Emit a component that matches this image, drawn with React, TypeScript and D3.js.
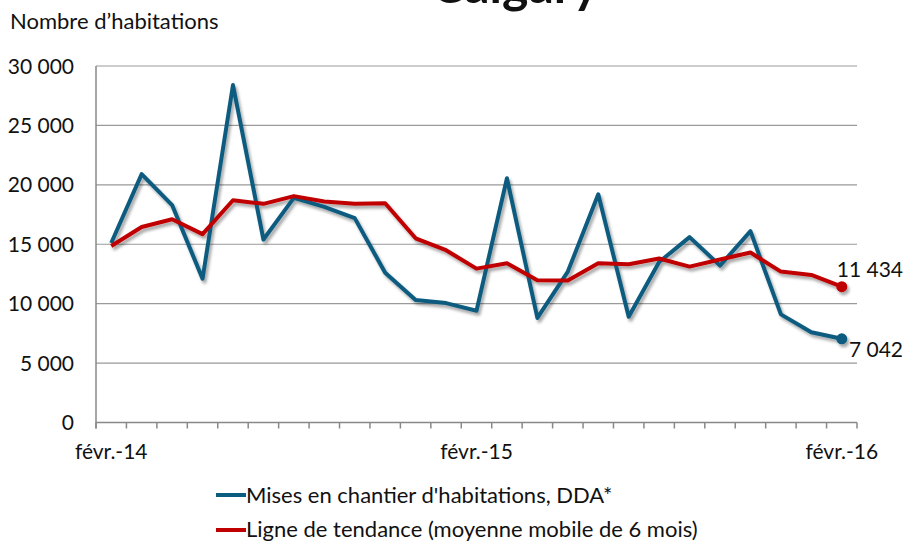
import * as d3 from "d3";

const months = [
  "févr.-14", "mars-14", "avr.-14", "mai-14", "juin-14", "juil.-14", "août-14",
  "sept.-14", "oct.-14", "nov.-14", "déc.-14", "janv.-15", "févr.-15", "mars-15",
  "avr.-15", "mai-15", "juin-15", "juil.-15", "août-15", "sept.-15", "oct.-15",
  "nov.-15", "déc.-15", "janv.-16", "févr.-16",
];
const shownLabels = ["févr.-14", "févr.-15", "févr.-16"];

const starts = [
  15100, 20900, 18300, 12100, 28400, 15400, 18900, 18150, 17200, 12600, 10300,
  10050, 9400, 20550, 8800, 12700, 19200, 8900, 13500, 15600, 13200, 16100,
  9100, 7600, 7042,
];
const trend = [
  14850, 16450, 17100, 15850, 18700, 18400, 19050, 18600, 18400, 18450, 15500,
  14500, 12950, 13400, 11980, 11950, 13400, 13320, 13800, 13120, 13720, 14300,
  12700, 12420, 11434,
];
const yTicks = [0, 5000, 10000, 15000, 20000, 25000, 30000];

const W = 906;
const H = 542;
const left = 96;
const right = 857;
const top = 66;
const bottom = 422.5;
const BLUE = "#0c5c80";
const RED = "#c00000";
const FONT = "Lato, 'Open Sans', sans-serif";

const fr = d3.formatLocale({
  decimal: ",",
  thousands: "\u00a0",
  grouping: [3],
  currency: ["", ""],
});
const fmt = fr.format(",d");

export default function App() {
  const x = d3.scaleBand<string>().domain(months).range([left, right]);
  const y = d3.scaleLinear().domain([0, 30000]).range([bottom, top]);
  const cx = (i: number) => (x(months[i]) as number) + x.bandwidth() / 2;

  const line = d3
    .line<number>()
    .x((_, i) => cx(i))
    .y((d) => y(d));

  const last = months.length - 1;
  const tickXs = months.map((m) => x(m) as number).concat([right]);

  return (
    <svg
      width={W}
      height={H}
      style={{ position: "absolute", left: 0, top: 0, background: "#fff" }}
      fontFamily={FONT}
    >
      <defs>
        <filter id="shadow" x="-10%" y="-10%" width="120%" height="130%">
          <feDropShadow dx="2" dy="3" stdDeviation="1.5" floodColor="#000" floodOpacity="0.35" />
        </filter>
      </defs>

      {/* title, cut off by the top edge as in the source */}
      <text x={515} y={3} textAnchor="middle" fontSize={50} fontWeight="bold" fill="#111">
        Calgary
      </text>
      <text x={10} y={29} fontSize={22} fill="#111">
        Nombre d’habitations
      </text>

      {/* grid + y labels */}
      {yTicks.map((t) => (
        <g key={t}>
          {t > 0 && (
            <line x1={left} x2={right} y1={y(t)} y2={y(t)} stroke="#9a9a9a" strokeWidth={1.2} />
          )}
          <text x={74} y={y(t) + 7.5} textAnchor="end" fontSize={21} fill="#111">
            {fmt(t)}
          </text>
        </g>
      ))}

      {/* axes */}
      <line x1={left} x2={left} y1={top} y2={bottom + 6} stroke="#888" strokeWidth={1.5} />
      <line x1={left} x2={right} y1={bottom} y2={bottom} stroke="#888" strokeWidth={1.5} />
      {tickXs.map((tx, i) => (
        <line key={i} x1={tx} x2={tx} y1={bottom} y2={bottom + 6} stroke="#888" strokeWidth={1.5} />
      ))}
      {months.map((m, i) =>
        shownLabels.includes(m) ? (
          <text key={m} x={cx(i)} y={459} textAnchor="middle" fontSize={21} fill="#111">
            {m}
          </text>
        ) : null
      )}

      {/* series */}
      <g filter="url(#shadow)">
        <path d={line(starts) ?? ""} fill="none" stroke={BLUE} strokeWidth={4} strokeLinejoin="round" />
        <circle cx={cx(last)} cy={y(starts[last])} r={5.5} fill={BLUE} />
        <path d={line(trend) ?? ""} fill="none" stroke={RED} strokeWidth={4} strokeLinejoin="round" />
        <circle cx={cx(last)} cy={y(trend[last])} r={5.5} fill={RED} />
      </g>

      <text x={903} y={277} textAnchor="end" fontSize={21} fill="#111">
        {fmt(trend[last])}
      </text>
      <text x={903} y={357} textAnchor="end" fontSize={21} fill="#111">
        {fmt(starts[last])}
      </text>

      {/* legend */}
      <line x1={216} x2={246} y1={495} y2={495} stroke={BLUE} strokeWidth={4} />
      <text x={246} y={503} fontSize={22} fill="#111">
        Mises en chantier d'habitations, DDA*
      </text>
      <line x1={216} x2={246} y1={530} y2={530} stroke={RED} strokeWidth={4} />
      <text x={246} y={537} fontSize={22} fill="#111">
        Ligne de tendance (moyenne mobile de 6 mois)
      </text>
    </svg>
  );
}
